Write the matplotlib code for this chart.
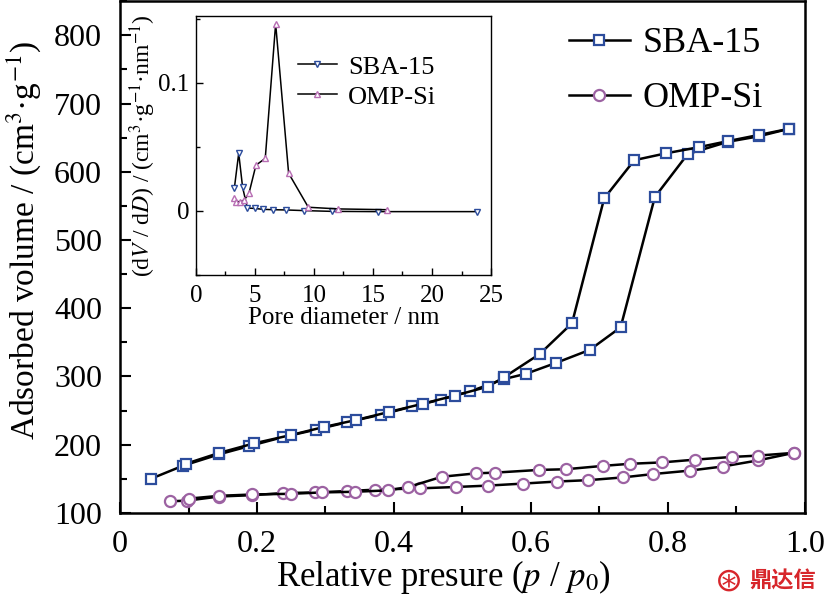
import matplotlib
matplotlib.use("Agg")
import matplotlib.pyplot as plt
from matplotlib.ticker import MultipleLocator, FuncFormatter

plt.rcParams['font.family'] = ['Liberation Serif', 'DejaVu Serif']
plt.rcParams['mathtext.fontset'] = 'stix'

# N2 isotherms: relative pressure p/p0 and adsorbed volume (cm3/g)
sba_ads_p = [0.045, 0.0915, 0.145, 0.189, 0.2375, 0.286, 0.332, 0.381, 0.427, 0.468, 0.511, 0.56,
             0.593, 0.637, 0.686, 0.731, 0.781, 0.829, 0.888, 0.933, 0.977]
sba_ads_v = [150, 169, 186, 198, 211, 222, 233, 244, 256, 266, 278, 296,
             304, 320, 339, 372, 563, 626, 644, 652, 663]
sba_des_p = [0.977, 0.933, 0.888, 0.845, 0.797, 0.751, 0.707, 0.66, 0.613, 0.561, 0.537, 0.489,
             0.442, 0.393, 0.344, 0.298, 0.249, 0.196, 0.145, 0.096]
sba_des_v = [663, 654, 645, 636, 627, 617, 561, 378, 333, 299, 285, 272,
             260, 248, 236, 226, 214, 202, 188, 172]

omp_ads_p = [0.073, 0.098, 0.1445, 0.193, 0.238, 0.285, 0.331, 0.372, 0.438, 0.491, 0.537, 0.589,
             0.638, 0.684, 0.734, 0.779, 0.832, 0.88, 0.932, 0.984]
omp_ads_v = [117, 118, 124, 126, 129, 130, 132, 134, 136, 138, 140, 143,
             146, 148, 152, 157, 162, 168, 177, 188]
omp_des_p = [0.984, 0.932, 0.893, 0.839, 0.791, 0.745, 0.706, 0.651, 0.612, 0.547, 0.52, 0.47,
             0.421, 0.391, 0.343, 0.295, 0.249, 0.193, 0.1445, 0.101]
omp_des_v = [188, 184, 182, 178, 174, 172, 169, 164, 163, 159, 158, 153,
             138, 133, 131, 130, 128, 127, 125, 121]

# pore size distribution (inset)
sba_d = [3.25, 3.62, 3.95, 4.35, 4.97, 5.65, 6.5, 7.63, 9.15, 11.5, 15.4, 23.8]
sba_dvdd = [0.0177, 0.045, 0.0185, 0.0023, 0.002, 0.0013, 0.001, 0.0008, 0.0003, -0.0003, -0.0005, -0.0005]
omp_d = [3.25, 3.39, 3.76, 4.1, 4.49, 5.08, 5.87, 6.75, 7.85, 9.52, 12.06, 16.2]
omp_dvdd = [0.0102, 0.0073, 0.0073, 0.0086, 0.0138, 0.0357, 0.041, 0.146, 0.0294, 0.0029, 0.0016, 0.001]

blue = '#2C4C9C'
purple = '#9C62A2'
pink = '#B86FB4'

fig = plt.figure(figsize=(8.28, 6.02), dpi=100)
ax = fig.add_axes([0.145, 0.148, 0.827, 0.85])

ax.plot(sba_ads_p, sba_ads_v, '-s', color='black', lw=1.8, ms=7, mfc='white', mec=blue, mew=1.6,
        label='SBA-15')
ax.plot(sba_des_p, sba_des_v, '-s', color='black', lw=1.8, ms=7, mfc='white', mec=blue, mew=1.6)
ax.plot(omp_ads_p, omp_ads_v, '-o', color='black', lw=1.8, ms=8, mfc='white', mec=purple, mew=1.6,
        label='OMP-Si')
ax.plot(omp_des_p, omp_des_v, '-o', color='black', lw=1.8, ms=8, mfc='white', mec=purple, mew=1.6)

ax.set_xlim(0, 1.0)
ax.set_ylim(100, 850)
ax.xaxis.set_major_locator(MultipleLocator(0.2))
ax.xaxis.set_minor_locator(MultipleLocator(0.1))
ax.yaxis.set_major_locator(MultipleLocator(100))
ax.yaxis.set_minor_locator(MultipleLocator(50))
ax.xaxis.set_major_formatter(FuncFormatter(lambda v, p: '0' if abs(v) < 1e-9 else '%.1f' % v))
ax.tick_params(which='both', direction='in', width=1.5, labelsize=23)
ax.tick_params(axis='x', pad=12)
ax.tick_params(axis='y', pad=13)
ax.tick_params(which='major', length=8)
ax.tick_params(which='minor', length=5)
for s in ax.spines.values():
    s.set_linewidth(1.8)

ax.set_xlabel(r'Relative presure ($p$ / $p_0$)', fontsize=25)
ax.set_ylabel(r'Adsorbed volume / (cm$^3$·g$^{-1}$)', fontsize=24)
ax.xaxis.set_label_coords(0.472, -0.088)
ax.yaxis.set_label_coords(-0.112, 0.533)

ax.legend(loc='upper left', bbox_to_anchor=(0.665, 0.985), bbox_transform=fig.transFigure,
          frameon=False, fontsize=26, handlelength=1.7, handletextpad=0.35, borderpad=0,
          labelspacing=0.6, numpoints=1)

# inset: pore size distribution
ins = fig.add_axes([0.2367, 0.543, 0.3563, 0.4304])
ins.plot(sba_d, sba_dvdd, '-v', color='black', lw=1.1, ms=5, mfc='white', mec=blue, mew=1.0,
         label='SBA-15')
ins.plot(omp_d, omp_dvdd, '-^', color='black', lw=1.1, ms=5, mfc='white', mec=pink, mew=1.0,
         label='OMP-Si')
ins.set_xlim(0, 25)
ins.set_ylim(-0.05, 0.152)
ins.xaxis.set_major_locator(MultipleLocator(5))
ins.xaxis.set_minor_locator(MultipleLocator(2.5))
ins.yaxis.set_major_locator(MultipleLocator(0.1))
ins.yaxis.set_minor_locator(MultipleLocator(0.05))
ins.yaxis.set_major_formatter(FuncFormatter(lambda v, p: '0' if abs(v) < 1e-9 else '%.1f' % v))
ins.tick_params(which='both', direction='in', width=1.0, labelsize=18)
ins.tick_params(axis='x', pad=7)
ins.tick_params(axis='y', pad=5)
ins.tick_params(which='major', length=5)
ins.tick_params(which='minor', length=3)
for s in ins.spines.values():
    s.set_linewidth(1.0)
ins.set_xlabel('Pore diameter / nm', fontsize=18, labelpad=0)
ins.set_ylabel(r'(d$V$ / d$D$) / (cm$^3$·g$^{-1}$·nm$^{-1}$)', fontsize=17, labelpad=0)
ins.legend(loc='upper left', bbox_to_anchor=(0.3, 0.9), frameon=False, fontsize=19,
           handlelength=1.5, handletextpad=0.4, borderpad=0, labelspacing=0.25, numpoints=1)

# watermark
fig.text(0.985, 0.035, '鼎达信', color='#D7262B', fontsize=16, fontweight='bold',
         family=['Noto Sans CJK SC', 'DejaVu Sans'], ha='right', va='center')
fig.text(0.88, 0.035, '⊛', color='#D7262B', fontsize=24, ha='center', va='center',
         family=['DejaVu Sans'])

fig.savefig('out.png', dpi=100)
